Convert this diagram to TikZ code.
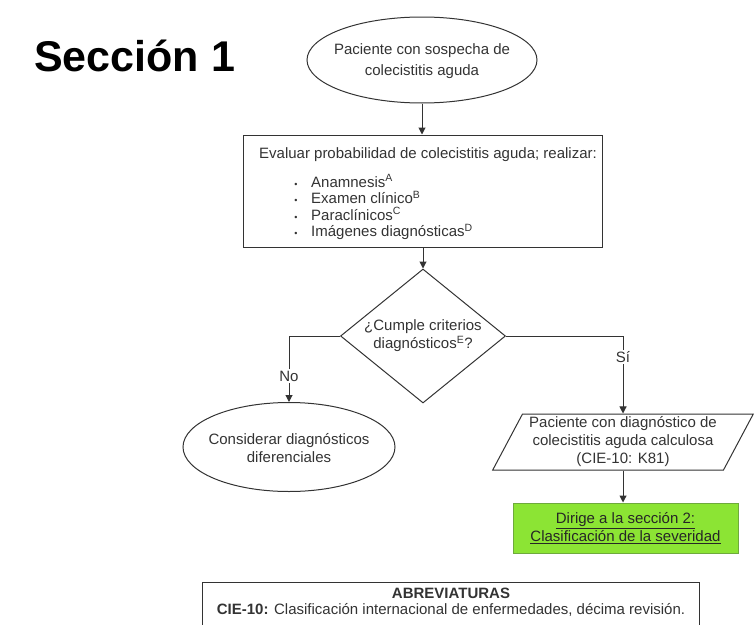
\documentclass[tikz,border=0pt]{standalone}
\usepackage{fontspec}
\setmainfont{Liberation Sans}
\usetikzlibrary{shapes.geometric,arrows.meta}
\definecolor{ink}{HTML}{333333}
\definecolor{limefill}{RGB}{140,228,52}
\definecolor{limeedge}{RGB}{110,170,60}
\newcommand{\bodyfont}{\fontsize{15}{18}\selectfont}
\begin{document}
\begin{tikzpicture}[x=1pt,y=-1pt,
  flow/.style={draw=ink, line width=1pt, text=ink, font=\bodyfont,
    align=center, inner sep=0pt},
  arr/.style={draw=ink, line width=1pt, -{Triangle[length=7pt,width=7pt]}},
  lbl/.style={fill=white, text=ink, font=\bodyfont, inner sep=1.5pt},
  txt/.style={text=ink, font=\bodyfont, inner sep=0pt, align=center}]
\useasboundingbox (0,0) rectangle (755,624);

% title
\node[anchor=base west, inner sep=0pt, font=\bfseries\fontsize{43}{50}\selectfont]
  (title) at (34,71) {Sección 1};

% start
\node[flow, ellipse, minimum width=230pt, minimum height=86pt]
  (start) at (422,60) {};
\node[txt] (starttext) at (422,61) {Paciente con sospecha de\\[3pt]colecistitis aguda};

% evaluation box
\node[flow, rectangle, minimum width=359pt, minimum height=112pt]
  (eval) at (422.5,191) {};
\node[txt, anchor=base] (evalhead) at (428,158)
  {Evaluar probabilidad de colecistitis aguda; realizar:};
\foreach \i/\t/\yb in {1/Anamnesis\textsuperscript{A}/187,
                       2/Examen clínico\textsuperscript{B}/203.5,
                       3/Paraclínicos\textsuperscript{C}/220,
                       4/Imágenes diagnósticas\textsuperscript{D}/236.5}{
  \node[txt, anchor=base] (bul\i) at (296,\yb) {\fontsize{9}{10}\selectfont •};
  \node[txt, anchor=base west] (item\i) at (311,\yb) {\t};
}

% decision
\node[flow, diamond, minimum width=165pt, minimum height=134pt]
  (dec) at (423,336) {};
\node[txt] (dectext) at (423,336) {¿Cumple criterios\\diagnósticos\textsuperscript{E}?};

% no branch
\node[flow, ellipse, minimum width=212pt, minimum height=89pt]
  (diff) at (289,447) {};
\node[txt] (difftext) at (289,448) {Considerar diagnósticos\\diferenciales};

% yes branch
\node[flow, trapezium, trapezium left angle=61, trapezium right angle=119,
  trapezium stretches=true, minimum width=261pt, minimum height=56pt]
  (dx) at (623,442) {Paciente con diagnóstico de\\colecistitis aguda calculosa\\(CIE-10: K81)};

\node[flow, rectangle, draw=limeedge, fill=limefill, text=black!85,
  minimum width=225pt, minimum height=50pt]
  (sec2) at (625.5,528) {\underline{Dirige a la sección 2:}\\\underline{Clasificación de la severidad}};

% abbreviations
\node[flow, rectangle, minimum width=497pt, minimum height=50pt, anchor=north west]
  (abbr) at (202,582) {};
\node[txt, anchor=base] (abbrhead) at (451,598) {\textbf{ABREVIATURAS}};
\node[txt, anchor=base] (abbrtext) at (451,614)
  {\textbf{CIE-10:} Clasificación internacional de enfermedades, décima revisión.};

% connectors
\draw[arr] (start.south) -- (eval.north -| start.south);
\draw[arr] (eval.south -| dec.north) -- (dec.north);
\draw[arr] (dec.west) -| (diff.north);
\draw[arr] (dec.east) -| (dx.north);
\draw[arr] (dx.south) -- (sec2.north -| dx.south);

\node[lbl] (nolbl) at (diff.north |- 0,376) {No};
\node[lbl] (silbl) at (dx.north |- 0,357) {Sí};
\end{tikzpicture}
\end{document}
